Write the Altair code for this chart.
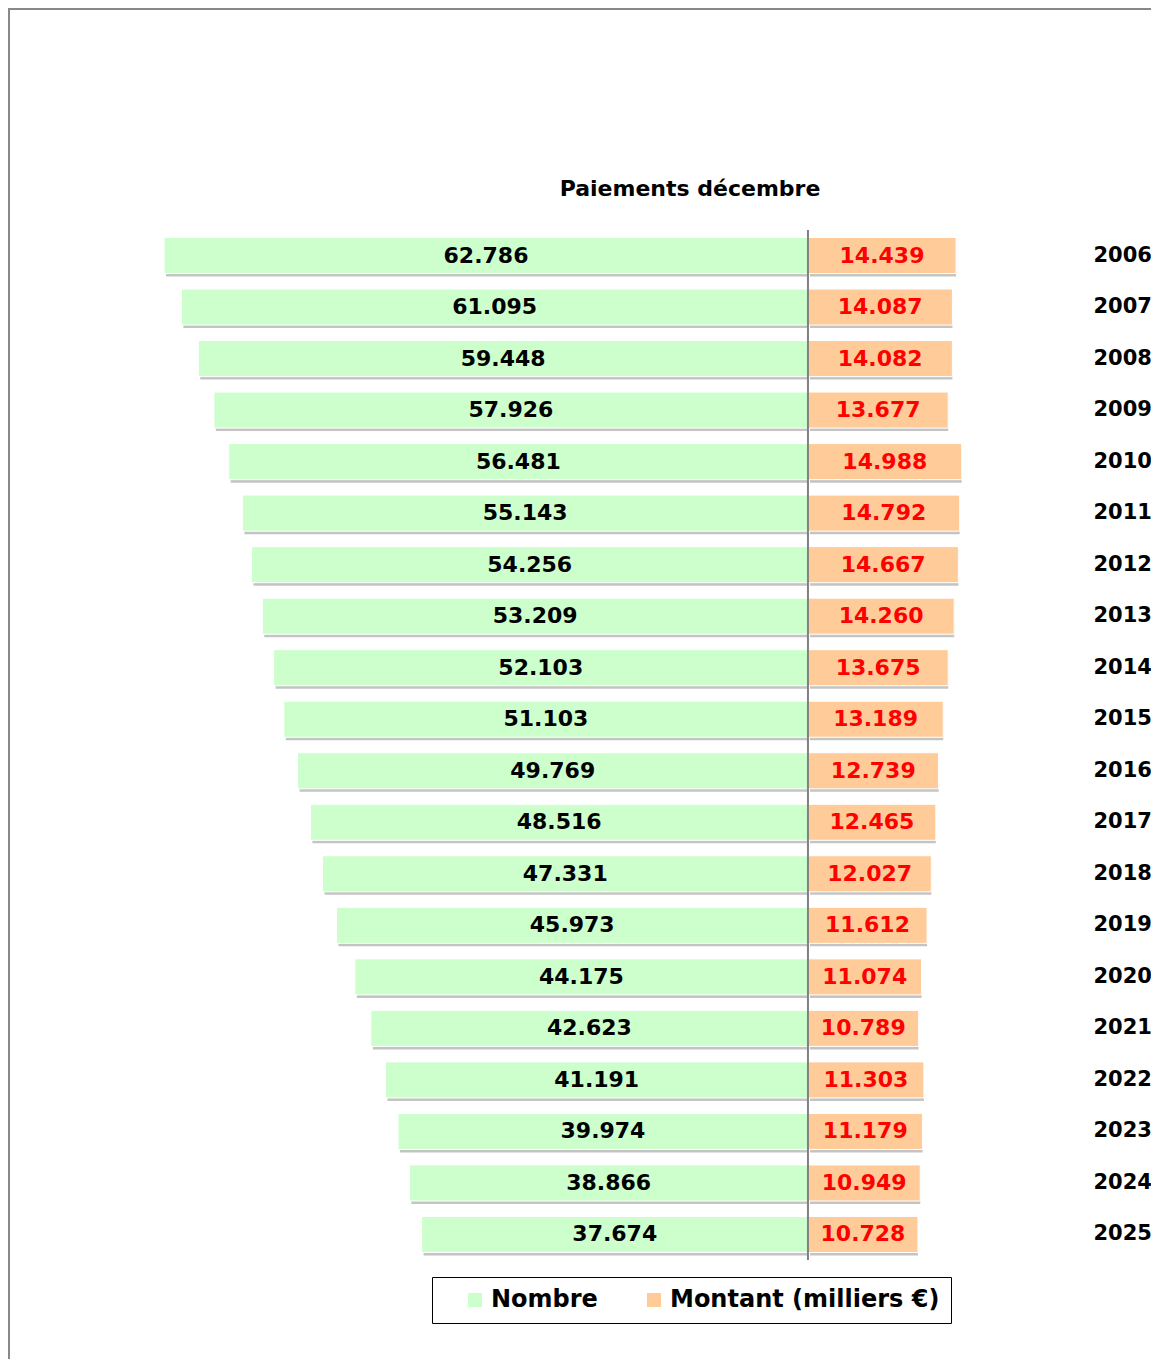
import altair as alt
import pandas as pd

years = ["2006", "2007", "2008", "2009", "2010", "2011", "2012", "2013", "2014", "2015",
         "2016", "2017", "2018", "2019", "2020", "2021", "2022", "2023", "2024", "2025"]
nombre = [62786, 61095, 59448, 57926, 56481, 55143, 54256, 53209, 52103, 51103,
          49769, 48516, 47331, 45973, 44175, 42623, 41191, 39974, 38866, 37674]
montant = [14439, 14087, 14082, 13677, 14988, 14792, 14667, 14260, 13675, 13189,
           12739, 12465, 12027, 11612, 11074, 10789, 11303, 11179, 10949, 10728]
series_names = ["Nombre", "Montant (milliers €)"]
bar_colors = ["#CCFFCC", "#FFCC99"]
text_colors = ["#000000", "#FF0000"]
title_text = "Paiements décembre"

rows = []
for y, n, m in zip(years, nombre, montant):
    rows.append({"year": y, "series": series_names[0], "start": -n, "end": 0,
                 "label": f"{n:,}".replace(",", "."), "tcolor": text_colors[0]})
    rows.append({"year": y, "series": series_names[1], "start": 0, "end": m,
                 "label": f"{m:,}".replace(",", "."), "tcolor": text_colors[1]})
df = pd.DataFrame(rows)
df["mid"] = (df["start"] + df["end"]) / 2

FONT = "DejaVu Sans"

xs = alt.Scale(domain=[-78000, 27500], nice=False, zero=False)
x_enc = alt.X("start:Q", scale=xs, axis=None)
y_enc = alt.Y("year:N", sort=years, title=None,
              scale=alt.Scale(paddingInner=0.30, paddingOuter=0.145),
              axis=alt.Axis(orient="right", ticks=False, domain=False, labelPadding=3,
                            labelFont=FONT, labelFontSize=21, labelFontWeight="bold",
                            labelColor="#000000", grid=False))

base = alt.Chart(df)

shadow = base.mark_bar(color="#8a8a8a", opacity=0.5, xOffset=2, yOffset=3).encode(
    x=x_enc, x2="end:Q", y=y_enc
)

bars = base.mark_bar(stroke="white", strokeWidth=1).encode(
    x=x_enc, x2="end:Q", y=y_enc,
    color=alt.Color("series:N",
                    scale=alt.Scale(domain=series_names, range=bar_colors),
                    legend=alt.Legend(title=None, orient="none", legendX=424, legendY=1047,
                                      direction="horizontal", symbolType="square",
                                      symbolSize=196, symbolStrokeWidth=0, symbolOpacity=1,
                                      symbolOffset=20,
                                      labelFont=FONT, labelFontSize=24, labelFontWeight="bold",
                                      labelColor="#000000", labelLimit=500, labelOffset=4,
                                      columnPadding=24, padding=11, strokeColor="#000000")),
)

labels = base.mark_text(font=FONT, fontSize=22, fontWeight="bold", baseline="middle",
                        align="center").encode(
    x=alt.X("mid:Q", scale=xs, axis=None), y=y_enc, text="label:N",
    color=alt.Color("tcolor:N", scale=None),
)

frame_df = pd.DataFrame({"k": [0]})
center = alt.Chart(frame_df).mark_rule(color="#808080", strokeWidth=2).encode(
    x=alt.X("k:Q", scale=xs, axis=None)
)
frame_left = alt.Chart(frame_df).mark_rule(color="#888888", strokeWidth=2).encode(
    x=alt.value(1), y=alt.value(-221), y2=alt.value(1129)
)
frame_top = alt.Chart(frame_df).mark_rule(color="#888888", strokeWidth=2).encode(
    x=alt.value(0), x2=alt.value(1143), y=alt.value(-221)
)

chart = alt.layer(shadow, bars, center, labels, frame_left, frame_top).properties(
    width=1082, height=1030,
    padding={"left": 0, "top": 222, "right": 61, "bottom": 99},
    autosize=alt.AutoSizeParams(type="none"),
    title=alt.TitleParams(title_text, font=FONT, fontSize=22, fontWeight="bold",
                          color="#000000", anchor="middle", dx=141, offset=0, dy=193),
).configure_view(stroke=None)

chart.save("out.html", embed_options={"renderer": "svg", "actions": False})
